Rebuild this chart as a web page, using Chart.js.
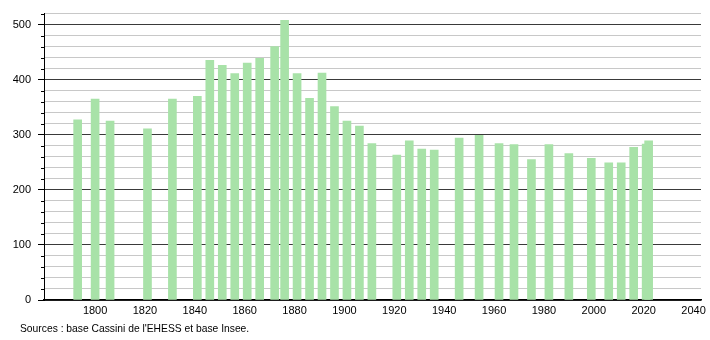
<!DOCTYPE html>
<html>
<head>
<meta charset="utf-8">
<script src="https://cdn.jsdelivr.net/npm/chart.js@4.4.1/dist/chart.umd.min.js"></script>
<style>
    html, body { margin: 0; padding: 0; background: #fff; }
    #wrap { position: relative; width: 710px; height: 340px; }
    #source {
        position: absolute; left: 20px; top: 323px;
        font: 10.3px "Liberation Sans", Arial, sans-serif; color: #000;
    }
</style>
</head>
<body>
<div id="wrap">
    <canvas id="popChart" width="710" height="340"></canvas>
    <div id="source">Sources : base Cassini de l'EHESS et base Insee.</div>
</div>
<script>
// census years and population
const years = [1793, 1800, 1806, 1821, 1831, 1841, 1846, 1851, 1856, 1861, 1866, 1872, 1876,
    1881, 1886, 1891, 1896, 1901, 1906, 1911, 1921, 1926, 1931, 1936, 1946, 1954, 1962,
    1968, 1975, 1982, 1990, 1999, 2006, 2011, 2016, 2021, 2022];
const population = [327, 365, 325, 311, 365, 370, 435, 426, 411, 430, 439, 460, 508,
    411, 366, 412, 351, 325, 316, 284, 263, 289, 274, 272, 294, 299, 284,
    282, 255, 282, 266, 257, 249, 249, 277, 283, 289];
const xTickYears = [1800, 1820, 1840, 1860, 1880, 1900, 1920, 1940, 1960, 1980, 2000, 2020, 2040];

const font = { family: '"Liberation Sans", Arial, sans-serif', size: 11 };

// short minor tick marks on the y axis
const minorTicks = {
    id: 'minorTicks',
    afterDraw(chart) {
        const y = chart.scales.y;
        const ctx = chart.ctx;
        ctx.save();
        ctx.strokeStyle = '#000';
        ctx.lineWidth = 1;
        y.ticks.forEach(t => {
            if (t.value % 100 === 0) return;
            const py = Math.round(y.getPixelForValue(t.value)) + 0.5;
            ctx.beginPath();
            ctx.moveTo(y.right - 3, py);
            ctx.lineTo(y.right, py);
            ctx.stroke();
        });
        ctx.restore();
    }
};

new Chart(document.getElementById('popChart'), {
    type: 'bar',
    data: {
        datasets: [{
            data: years.map((yr, i) => ({ x: yr, y: population[i] })),
            backgroundColor: 'rgb(168, 226, 168)',
            borderWidth: 0,
            barThickness: 8
        }]
    },
    options: {
        responsive: false,
        animation: false,
        layout: { padding: { top: 10, right: 9, left: 0, bottom: 0 } },
        plugins: { legend: { display: false }, tooltip: { enabled: false } },
        scales: {
            x: {
                type: 'linear',
                min: 1779.5,
                max: 2043,
                offset: false,
                afterBuildTicks: scale => { scale.ticks = xTickYears.map(v => ({ value: v })); },
                afterFit: scale => { scale.height = 40; },
                grid: { display: false, drawTicks: false },
                border: { color: '#000', width: 1.5 },
                ticks: {
                    color: '#000', font: font, padding: 4, maxRotation: 0, autoSkip: false,
                    callback: v => String(v)
                }
            },
            y: {
                min: 0,
                max: 520,
                afterFit: scale => { scale.width = 44; },
                grid: {
                    color: ctx => (ctx.tick && ctx.tick.value % 100 === 0) ? '#3a3a3a' : '#c8c8c8',
                    tickColor: ctx => (ctx.tick && ctx.tick.value % 100 === 0) ? '#000' : 'rgba(0,0,0,0)',
                    tickLength: 6
                },
                border: { color: '#000', width: 1 },
                ticks: {
                    stepSize: 20,
                    color: '#000',
                    font: font,
                    padding: 7,
                    autoSkip: false,
                    callback: v => (v % 100 === 0 ? String(v) : '')
                }
            }
        }
    },
    plugins: [minorTicks]
});
</script>
</body>
</html>
